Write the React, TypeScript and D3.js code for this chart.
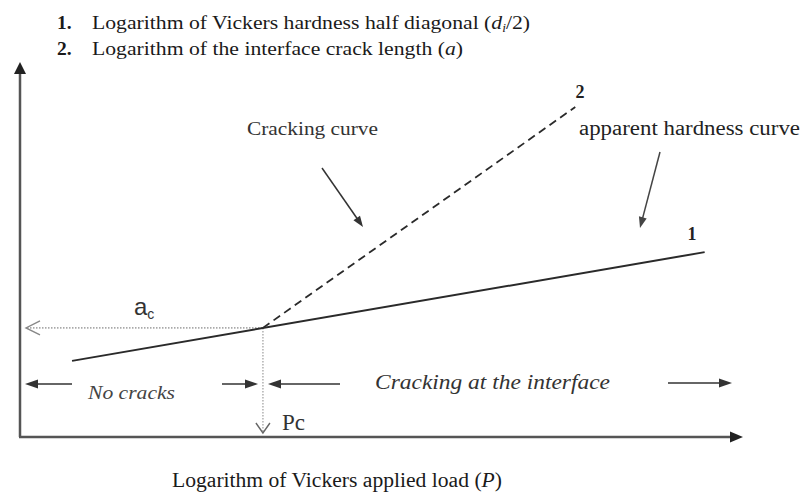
import React from "react";
import * as d3 from "d3";

// Data (in arbitrary log units, 0–100 on each axis)
const hardnessX = [7.2, 94.7];
const hardnessY = [20.3, 49.3];
const crackingX = [33.6, 76.8];
const crackingY = [29.1, 88.0];
const criticalP = 33.6;
const criticalA = 29.1;

const legendLines = [
  { num: "1.", text: "Logarithm of Vickers  hardness half diagonal (", it: "d", sub: "i", tail: "/2)", len: 438 },
  { num: "2.", text: "Logarithm of the interface crack length  (", it: "a", sub: "", tail: ")", len: 371 },
];
const xAxisLabel = "Logarithm of Vickers  applied load (";

const W = 804;
const H = 495;
const serif = "'Liberation Serif', 'Times New Roman', serif";
const sans = "'Liberation Sans', Arial, sans-serif";

function Arrow({ x1, y1, x2, y2, len = 11, wid = 8, color = "#333", sw = 1.5 }: any) {
  const dx = x2 - x1, dy = y2 - y1;
  const d = Math.hypot(dx, dy);
  const ux = dx / d, uy = dy / d;
  const bx = x2 - ux * len, by = y2 - uy * len;
  const px = -uy * wid / 2, py = ux * wid / 2;
  return (
    <g>
      <line x1={x1} y1={y1} x2={bx + ux * 1} y2={by + uy * 1} stroke={color} strokeWidth={sw} />
      <polygon points={`${x2},${y2} ${bx + px},${by + py} ${bx - px},${by - py}`} fill={color} />
    </g>
  );
}

export default function App() {
  const x = d3.scaleLinear().domain([0, 100]).range([20, 743]);
  const y = d3.scaleLinear().domain([0, 100]).range([437, 62]);
  const line = d3.line<[number, number]>().x((d) => x(d[0])).y((d) => y(d[1]));
  const hard: [number, number][] = hardnessX.map((v, i) => [v, hardnessY[i]]);
  const crack: [number, number][] = crackingX.map((v, i) => [v, crackingY[i]]);
  const pcX = x(criticalP);
  const acY = y(criticalA);
  const ax0 = x(0), ay0 = y(0);

  return (
    <svg width={W} height={H} style={{ position: "absolute", left: 0, top: 0, background: "#fff" }}>
      <rect width={W} height={H} fill="#fff" />
      {/* legend */}
      {legendLines.map((l, i) => (
        <g key={i} fontFamily={serif} fontSize={19.5} fill="#1a1a1a">
          <text x={57} y={29 + i * 26} fontWeight="bold">{l.num}</text>
          <text x={92} y={29 + i * 26} textLength={l.len} lengthAdjust="spacingAndGlyphs">
            {l.text}
            <tspan fontStyle="italic">{l.it}</tspan>
            {l.sub ? <tspan fontStyle="italic" fontSize={12} dy={3}>{l.sub}</tspan> : null}
            <tspan dy={l.sub ? -3 : 0}>{l.tail}</tspan>
          </text>
        </g>
      ))}

      {/* axes */}
      <line x1={ax0} y1={ay0} x2={ax0} y2={y(100) + 10} stroke="#555" strokeWidth={2.5} />
      <polygon points={`${ax0},${y(100)} ${ax0 - 6},${y(100) + 12} ${ax0 + 6},${y(100) + 12}`} fill="#222" />
      <line x1={ax0 - 1} y1={ay0} x2={x(100) - 10} y2={ay0} stroke="#555" strokeWidth={2.5} />
      <polygon points={`${x(100)},${ay0} ${x(100) - 13},${ay0 - 5.5} ${x(100) - 13},${ay0 + 5.5}`} fill="#222" />

      {/* dotted guides */}
      <line x1={27} y1={acY} x2={pcX} y2={acY} stroke="#aaa" strokeWidth={1.6} strokeDasharray="1.5,1.5" />
      <polyline points={`${40},${acY - 7} ${26},${acY} ${40},${acY + 7}`} fill="none" stroke="#888" strokeWidth={1.4} />
      <line x1={pcX} y1={acY} x2={pcX} y2={432} stroke="#aaa" strokeWidth={1.4} strokeDasharray="1.5,1.5" />
      <polyline points={`${pcX - 7},${423} ${pcX},${433} ${pcX + 7},${423}`} fill="none" stroke="#666" strokeWidth={1.4} />

      {/* curves */}
      <path d={line(crack) || ""} fill="none" stroke="#2a2a2a" strokeWidth={1.8} strokeDasharray="8,5" />
      <path d={line(hard) || ""} fill="none" stroke="#2a2a2a" strokeWidth={2} />

      {/* curve numbers */}
      <text x={580} y={98} fontFamily={serif} fontSize={18} fontWeight="bold" textAnchor="middle" fill="#222">2</text>
      <text x={692} y={240} fontFamily={serif} fontSize={18} fontWeight="bold" textAnchor="middle" fill="#222">1</text>

      {/* annotations */}
      <text x={247} y={135} fontFamily={serif} fontSize={19} fill="#333" textLength={131} lengthAdjust="spacingAndGlyphs">Cracking curve</text>
      <Arrow x1={322} y1={168} x2={363} y2={227} len={11} wid={8} />
      <text x={579} y={135} fontFamily={serif} fontSize={20} fill="#222" textLength={221} lengthAdjust="spacingAndGlyphs">apparent hardness curve</text>
      <Arrow x1={660} y1={152} x2={640} y2={228} len={11} wid={8} color="#444" />

      {/* critical labels */}
      <text x={134} y={315} fontFamily={sans} fontSize={24} fill="#333">
        a<tspan fontSize={14} dy={4}>c</tspan>
      </text>
      <text x={282} y={430} fontFamily={serif} fontSize={23} fill="#333">Pc</text>

      {/* region arrows */}
      <Arrow x1={72} y1={384} x2={25} y2={384} len={13} wid={9} />
      <Arrow x1={222} y1={384} x2={258} y2={384} len={13} wid={9} />
      <Arrow x1={340} y1={384} x2={268} y2={384} len={13} wid={9} />
      <Arrow x1={668} y1={383} x2={732} y2={383} len={13} wid={9} />
      <text x={88} y={399} fontFamily={serif} fontSize={18} fontStyle="italic" fill="#444" textLength={87} lengthAdjust="spacingAndGlyphs">No cracks</text>
      <text x={375} y={389} fontFamily={serif} fontSize={20} fontStyle="italic" fill="#333" textLength={235} lengthAdjust="spacingAndGlyphs">Cracking at the interface</text>

      {/* x-axis label */}
      <text x={172} y={487} fontFamily={serif} fontSize={20} fill="#1a1a1a" textLength={330} lengthAdjust="spacingAndGlyphs">
        {xAxisLabel}
        <tspan fontStyle="italic">P</tspan>)
      </text>
    </svg>
  );
}
